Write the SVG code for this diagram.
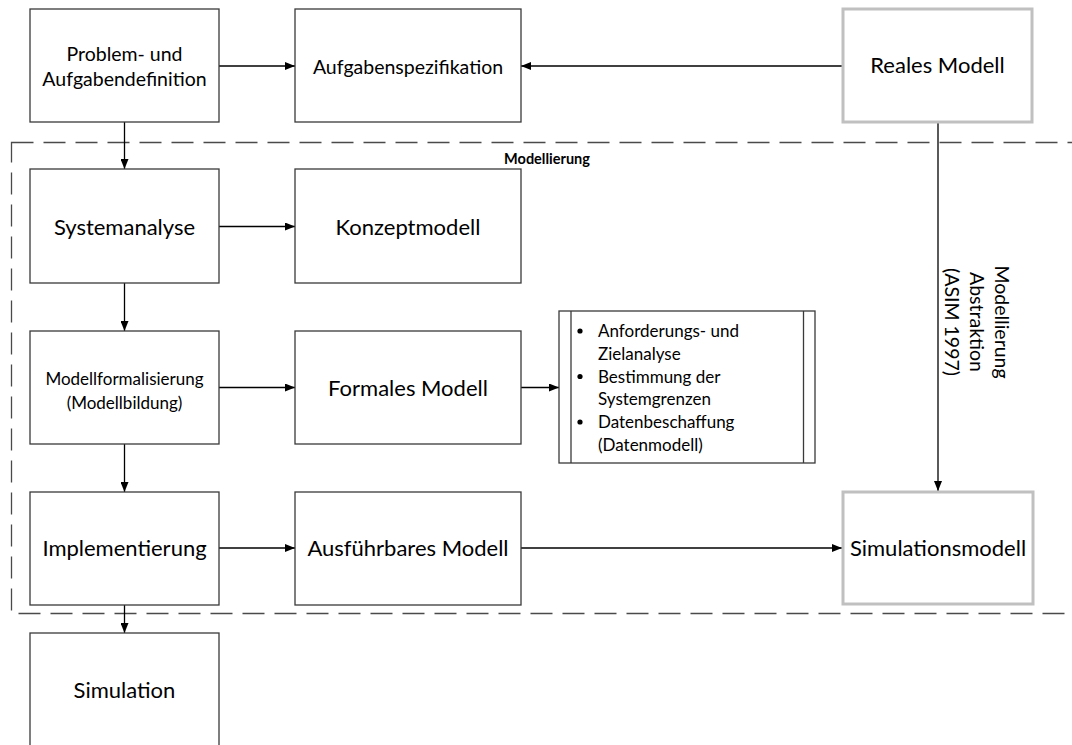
<svg xmlns="http://www.w3.org/2000/svg" width="1072" height="745" viewBox="0 0 1072 745">
  <defs>
    <marker id="arrow" viewBox="0 0 10 8" markerWidth="10" markerHeight="8" refX="10" refY="4" orient="auto" markerUnits="userSpaceOnUse">
      <path d="M0,0 L10,4 L0,8 Z" fill="#000"/>
    </marker>
    <style>
      .box { fill: #fff; stroke: #3a3a3a; stroke-width: 1.3; }
      .gbox { fill: #fff; stroke: #c0c0c0; stroke-width: 3; }
      .lbl { font-family: Lato, "Liberation Sans", sans-serif; fill: #000; text-anchor: middle; }
      .l22 { font-size: 22px; }
      .l19 { font-size: 19.5px; }
      .l17 { font-size: 17px; }
      .item { font-family: Lato, "Liberation Sans", sans-serif; font-size: 17px; fill: #000; }
      .edge { fill: none; stroke: #000; stroke-width: 1.3; marker-end: url(#arrow); }
      .frame { fill: none; stroke: #4a4a4a; stroke-width: 1.3; stroke-dasharray: 22 10; }
    </style>
  </defs>

  <rect width="1072" height="745" fill="#fff"/>

  <!-- modelling frame -->
  <g id="frame-modellierung">
    <rect class="frame" x="11.5" y="142.5" width="1075" height="471"/>
    <text x="547" y="164" font-family="Lato, 'Liberation Sans', sans-serif" font-size="14.5" font-weight="bold" text-anchor="middle">Modellierung</text>
  </g>

  <!-- connectors -->
  <g id="connectors">
    <line class="edge" x1="219" y1="66" x2="295" y2="66"/>
    <line class="edge" x1="843" y1="66" x2="521" y2="66"/>
    <line class="edge" x1="124.5" y1="122" x2="124.5" y2="169"/>
    <line class="edge" x1="219" y1="226.5" x2="295" y2="226.5"/>
    <line class="edge" x1="124.5" y1="283" x2="124.5" y2="331"/>
    <line class="edge" x1="219" y1="387.5" x2="295" y2="387.5"/>
    <line class="edge" x1="521" y1="387.5" x2="559" y2="387.5"/>
    <line class="edge" x1="124.5" y1="444" x2="124.5" y2="492"/>
    <line class="edge" x1="219" y1="548" x2="295" y2="548"/>
    <line class="edge" x1="521" y1="548" x2="842" y2="548"/>
    <line class="edge" x1="124.5" y1="605" x2="124.5" y2="633"/>
    <line class="edge" x1="938" y1="123" x2="938" y2="491"/>
    <g class="lbl" font-size="19.5" transform="translate(995,322) rotate(90)">
      <text x="0" y="0">Modellierung</text>
      <text x="0" y="25">Abstraktion</text>
      <text x="0" y="50">(ASIM 1997)</text>
    </g>
  </g>

  <g id="node-problem">
    <rect class="box" x="30" y="9" width="189" height="113"/>
    <text class="lbl l19" x="124.5" y="61">Problem- und</text>
    <text class="lbl l19" x="124.5" y="86">Aufgabendefinition</text>
  </g>

  <g id="node-aufgabenspezifikation">
    <rect class="box" x="295" y="9" width="226" height="113"/>
    <text class="lbl l19" x="408" y="73.5">Aufgabenspezifikation</text>
  </g>

  <g id="node-reales-modell">
    <rect class="gbox" x="843" y="9" width="189" height="113"/>
    <text class="lbl l22" x="937.5" y="73">Reales Modell</text>
  </g>

  <g id="node-systemanalyse">
    <rect class="box" x="30" y="169" width="189" height="114"/>
    <text class="lbl l22" x="124.5" y="234.5">Systemanalyse</text>
  </g>

  <g id="node-konzeptmodell">
    <rect class="box" x="295" y="169" width="226" height="114"/>
    <text class="lbl l22" x="408" y="234.5">Konzeptmodell</text>
  </g>

  <g id="node-modellformalisierung">
    <rect class="box" x="30" y="331" width="189" height="113"/>
    <text class="lbl l17" x="124.5" y="385">Modellformalisierung</text>
    <text class="lbl l17" x="124.5" y="409">(Modellbildung)</text>
  </g>

  <g id="node-formales-modell">
    <rect class="box" x="295" y="331" width="226" height="113"/>
    <text class="lbl l22" x="408" y="396">Formales Modell</text>
  </g>

  <g id="node-anforderungen">
    <rect class="box" x="559" y="311" width="256" height="152"/>
    <line x1="571" y1="311" x2="571" y2="463" stroke="#3a3a3a" stroke-width="1.3"/>
    <line x1="803.5" y1="311" x2="803.5" y2="463" stroke="#3a3a3a" stroke-width="1.3"/>
    <circle cx="580" cy="331" r="2.6"/>
    <circle cx="580" cy="376.5" r="2.6"/>
    <circle cx="580" cy="422" r="2.6"/>
    <text class="item" x="598" y="337">Anforderungs- und</text>
    <text class="item" x="598" y="360">Zielanalyse</text>
    <text class="item" x="598" y="382.5">Bestimmung der</text>
    <text class="item" x="598" y="405">Systemgrenzen</text>
    <text class="item" x="598" y="428">Datenbeschaffung</text>
    <text class="item" x="598" y="450.5">(Datenmodell)</text>
  </g>

  <g id="node-implementierung">
    <rect class="box" x="30" y="492" width="189" height="113"/>
    <text class="lbl l22" x="124.5" y="556">Implementierung</text>
  </g>

  <g id="node-ausfuehrbares-modell">
    <rect class="box" x="295" y="492" width="226" height="113"/>
    <text class="lbl l22" x="408" y="556">Ausführbares Modell</text>
  </g>

  <g id="node-simulationsmodell">
    <rect class="gbox" x="843" y="492" width="190" height="112"/>
    <text class="lbl l22" x="938" y="556">Simulationsmodell</text>
  </g>

  <g id="node-simulation">
    <rect class="box" x="30" y="633" width="189" height="130"/>
    <text class="lbl l22" x="124.5" y="698">Simulation</text>
  </g>
</svg>
